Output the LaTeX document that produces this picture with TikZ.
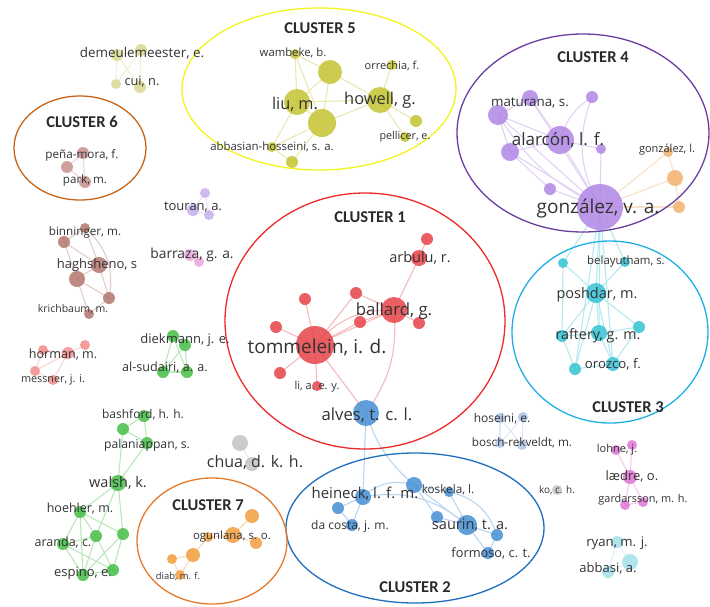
\documentclass[tikz,border=0pt]{standalone}
\usepackage{fontspec}
\newfontfamily\lblfont{Open Sans}
\newfontfamily\clfont{Carlito}
\usetikzlibrary{positioning}
\pgfdeclarelayer{ties}
\pgfsetlayers{ties,main}

\definecolor{cOne}{HTML}{E8494F}
\definecolor{hOne}{HTML}{EE2A2A}
\definecolor{cTwo}{HTML}{4B92D6}
\definecolor{hTwo}{HTML}{1E6EBC}
\definecolor{cThree}{HTML}{3CC6D6}
\definecolor{hThree}{HTML}{1FB0E6}
\definecolor{cFour}{HTML}{B38AE6}
\definecolor{hFour}{HTML}{6A3EA1}
\definecolor{cFive}{HTML}{C6C63A}
\definecolor{hFive}{HTML}{F4F41E}
\definecolor{cSix}{HTML}{C99490}
\definecolor{hSix}{HTML}{C9641C}
\definecolor{cSeven}{HTML}{F2A244}
\definecolor{hSeven}{HTML}{E67A2C}
\definecolor{cBrown}{HTML}{B57C74}
\definecolor{cPink}{HTML}{F29090}
\definecolor{cGreen}{HTML}{4CC04C}
\definecolor{cGrey}{HTML}{C4C4C4}
\definecolor{cLav}{HTML}{C9B2EE}
\definecolor{cRose}{HTML}{EAAADE}
\definecolor{cMag}{HTML}{E07AD6}
\definecolor{cSteel}{HTML}{AEC4E6}
\definecolor{cAqua}{HTML}{A6E2EA}
\definecolor{cPale}{HTML}{DADA94}
\definecolor{cPeach}{HTML}{F2B474}
\definecolor{labgray}{HTML}{333333}
\definecolor{titlegray}{HTML}{2A2A2A}

\tikzset{
  au/.style={circle, inner sep=0pt, minimum size=#1, fill opacity=0.88},
  lbl/.style={font=\lblfont\fontsize{#1}{#1}\selectfont, text=labgray, inner sep=0pt},
  ctitle/.style={font=\clfont\bfseries\fontsize{16.5}{16.5}\selectfont, text=titlegray, inner sep=0pt},
  hull/.style={line width=1.3pt},
  tie/.style={draw=#1!38, line width=1.1pt, line cap=round},
}

\begin{document}
\begin{tikzpicture}[x=1pt, y=-1pt]
\begin{pgfonlayer}{ties}
  \fill[white] (0,0) rectangle (710,606);
\end{pgfonlayer}
\useasboundingbox (0,0) rectangle (710,606);

% --- cluster 5 ---
\node[au=10, fill=cFive] (wam) at (295,54) {};
\node[au=24, fill=cFive] (ftop) at (330,72) {};
\node[au=10, fill=cFive] (orr) at (392,65) {};
\node[au=26, fill=cFive] (liu) at (297,102) {};
\node[au=28, fill=cFive] (fmid) at (322,123) {};
\node[au=26, fill=cFive] (how) at (380,100) {};
\node[au=12, fill=cFive] (frs) at (416,121) {};
\node[au=10, fill=cFive] (pel) at (405,137) {};
\node[au=10, fill=cFive] (abb) at (272,147) {};
\node[au=12, fill=cFive] (flow) at (292,162) {};

% --- demeulemeester / cui ---
\node[au=12, fill=cPale] (dm1) at (117,55) {};
\node[au=12, fill=cPale] (dm2) at (141,50) {};
\node[au=10, fill=cPale] (dm3) at (116,84) {};
\node[au=12, fill=cPale] (dm4) at (140,87) {};

% --- cluster 6 ---
\node[au=12, fill=cSix] (pm1) at (83,153) {};
\node[au=12, fill=cSix] (pm2) at (67,167) {};
\node[au=12, fill=cSix] (pm3) at (85,182) {};

% --- cluster 4 ---
\node[au=16, fill=cFour] (ma1) at (530,98) {};
\node[au=20, fill=cFour] (ma2) at (498,115) {};
\node[au=12, fill=cFour] (ma3) at (592,97) {};
\node[au=28, fill=cFour] (alar) at (560,140) {};
\node[au=18, fill=cFour] (ma4) at (510,152) {};
\node[au=10, fill=cFour] (ma5) at (601,149) {};
\node[au=12, fill=cFour] (ma6) at (550,189) {};
\node[au=46, fill=cFour] (gva) at (600,207) {};
\node[au=10, fill=cPeach] (gl1) at (668,152) {};
\node[au=16, fill=cPeach] (gl2) at (675,178) {};
\node[au=12, fill=cPeach] (gl3) at (679,207) {};

% --- cluster 3 ---
\node[au=10, fill=cThree] (be1) at (563,263) {};
\node[au=10, fill=cThree] (be2) at (625,262) {};
\node[au=20, fill=cThree] (pos) at (596,293) {};
\node[au=12, fill=cThree] (be3) at (639,327) {};
\node[au=12, fill=cThree] (be4) at (562,336) {};
\node[au=16, fill=cThree] (raf) at (599,333) {};
\node[au=12, fill=cThree] (be5) at (575,369) {};
\node[au=14, fill=cThree] (oro) at (613,364) {};

% --- cluster 1 ---
\node[au=38, fill=cOne] (tom) at (315,345) {};
\node[au=26, fill=cOne] (bal) at (394,310) {};
\node[au=16, fill=cOne] (arb) at (419,258) {};
\node[au=12, fill=cOne] (ro1) at (427,239) {};
\node[au=12, fill=cOne] (ro2) at (356,293) {};
\node[au=12, fill=cOne] (ro3) at (360,322) {};
\node[au=12, fill=cOne] (ro4) at (419,323) {};
\node[au=12, fill=cOne] (ro5) at (305,299) {};
\node[au=12, fill=cOne] (ro6) at (276,327) {};
\node[au=12, fill=cOne] (ro7) at (280,373) {};
\node[au=10, fill=cOne] (lia) at (317,386) {};
\node[au=26, fill=cTwo] (alv) at (366,413) {};

% --- cluster 2 ---
\node[au=16, fill=cTwo] (kn) at (414,485) {};
\node[au=16, fill=cTwo] (hei) at (363,497) {};
\node[au=12, fill=cTwo] (hn2) at (338,508) {};
\node[au=12, fill=cTwo] (dac) at (352,525) {};
\node[au=10, fill=cTwo] (kos) at (449,492) {};
\node[au=12, fill=cTwo] (sn1) at (437,517) {};
\node[au=20, fill=cTwo] (sau) at (467,525) {};
\node[au=12, fill=cTwo] (sn2) at (497,535) {};
\node[au=12, fill=cTwo] (for) at (488,553) {};

% --- small groups, left ---
\node[au=10, fill=cLav] (tu1) at (205,193) {};
\node[au=12, fill=cLav] (tu2) at (193,210) {};
\node[au=10, fill=cLav] (tu3) at (209,215) {};
\node[au=12, fill=cRose] (ba1) at (190,255) {};
\node[au=10, fill=cRose] (ba2) at (199,262) {};
\node[au=10, fill=cBrown] (hg1) at (85,228) {};
\node[au=12, fill=cBrown] (hg2) at (64,242) {};
\node[au=16, fill=cBrown] (hg3) at (99,265) {};
\node[au=16, fill=cBrown] (hg4) at (77,279) {};
\node[au=12, fill=cBrown] (hg5) at (109,298) {};
\node[au=10, fill=cBrown] (hg6) at (89,314) {};
\node[au=10, fill=cPink] (hm1) at (43,350) {};
\node[au=12, fill=cPink] (hm2) at (68,353) {};
\node[au=10, fill=cPink] (hm3) at (85,345) {};
\node[au=10, fill=cPink] (hm4) at (35,371) {};
\node[au=10, fill=cPink] (hm5) at (53,380) {};
\node[au=12, fill=cGreen] (dk1) at (173,336) {};
\node[au=12, fill=cGreen] (dk2) at (185,345) {};
\node[au=12, fill=cGreen] (dk3) at (163,372) {};
\node[au=12, fill=cGreen] (dk4) at (187,372) {};
\node[au=12, fill=cGreen] (wk1) at (144,416) {};
\node[au=12, fill=cGreen] (wk2) at (123,429) {};
\node[au=12, fill=cGreen] (wk3) at (147,443) {};
\node[au=16, fill=cGreen] (wal) at (118,483) {};
\node[au=12, fill=cGreen] (hoe) at (80,512) {};
\node[au=12, fill=cGreen] (wk4) at (123,534) {};
\node[au=12, fill=cGreen] (wk5) at (96,536) {};
\node[au=12, fill=cGreen] (ara) at (63,544) {};
\node[au=12, fill=cGreen] (wk6) at (113,570) {};
\node[au=12, fill=cGreen] (esp) at (83,575) {};
\node[au=16, fill=cGrey] (ch1) at (240,443) {};
\node[au=14, fill=cGrey] (ch2) at (252,464) {};

% --- cluster 7 ---
\node[au=14, fill=cSeven] (og1) at (252,516) {};
\node[au=16, fill=cSeven] (og2) at (233,535) {};
\node[au=12, fill=cSeven] (og3) at (256,543) {};
\node[au=10, fill=cSeven] (og4) at (208,537) {};
\node[au=14, fill=cSeven] (og5) at (193,555) {};
\node[au=10, fill=cSeven] (og6) at (172,559) {};
\node[au=10, fill=cSeven] (og7) at (180,575) {};

% --- small groups, right ---
\node[au=10, fill=cSteel] (hs1) at (500,418) {};
\node[au=10, fill=cSteel] (hs2) at (523,417) {};
\node[au=10, fill=cSteel] (hs3) at (500,443) {};
\node[au=10, fill=cSteel] (hs4) at (522,445) {};
\node[au=10, fill=cGrey] (koc) at (557,490) {};
\node[au=10, fill=cMag] (lo1) at (616,450) {};
\node[au=10, fill=cMag] (lo2) at (632,445) {};
\node[au=14, fill=cMag] (lae) at (630,477) {};
\node[au=10, fill=cMag] (lo3) at (625,505) {};
\node[au=10, fill=cMag] (lo4) at (643,502) {};
\node[au=12, fill=cAqua] (ry1) at (617,542) {};
\node[au=16, fill=cAqua] (ry2) at (630,562) {};
\node[au=12, fill=cAqua] (ry3) at (608,572) {};

% --- links ---
\begin{pgfonlayer}{ties}
  \foreach \a/\b in {wam/liu, wam/fmid, wam/ftop, liu/ftop, liu/fmid, ftop/fmid, ftop/how,
      fmid/how, liu/how, how/orr, how/frs, how/pel, liu/abb, fmid/abb, abb/flow, fmid/flow}
    \draw[tie=cFive] (\a.center) -- (\b.center);
  \foreach \a/\b in {dm1/dm2, dm1/dm4, dm2/dm3, dm2/dm4, dm1/dm3}
    \draw[tie=cPale] (\a.center) -- (\b.center);
  \foreach \a/\b in {pm1/pm2, pm2/pm3, pm1/pm3}
    \draw[tie=cSix] (\a.center) -- (\b.center);
  \foreach \a/\b in {ma1/ma2, ma1/alar, ma2/alar, ma2/ma4, alar/ma4, alar/gva, ma1/gva, ma2/gva,
      ma5/gva, ma6/gva, ma4/gva, alar/ma5, ma4/ma6}
    \draw[tie=cFour] (\a.center) -- (\b.center);
  \draw[tie=cFour] (ma3.center) to[bend right=20] (alar.center);
  \draw[tie=cFour] (ma3.center) to[bend right=25] (gva.center);
  \draw[tie=cFour] (ma2.center) to[bend right=15] (gva.center);
  \foreach \a/\b in {gva/gl1, gva/gl2, gva/gl3, gl1/gl2, gl2/gl3}
    \draw[tie=cPeach] (\a.center) -- (\b.center);
  \foreach \a/\b in {gva/be1, gva/be2, gva/pos, gva/raf, gva/oro, gva/be5, pos/be1, pos/be2,
      pos/be3, pos/be4, pos/raf, pos/oro, pos/be5, raf/be4, raf/oro, raf/be3, oro/be5,
      oro/be3, be4/be5, be1/be4}
    \draw[tie=cThree] (\a.center) -- (\b.center);
  \foreach \a/\b in {tom/ro5, tom/ro6, tom/ro7, tom/lia, tom/ro2, tom/ro3, tom/bal, ro2/bal,
      ro3/bal, bal/ro4, bal/arb, arb/ro1, tom/alv}
    \draw[tie=cOne] (\a.center) -- (\b.center);
  \draw[tie=cOne] (tom.center) to[bend left=25] (bal.center);
  \draw[tie=cOne] (bal.center) to[bend left=20] (alv.center);
  \foreach \a/\b in {alv/hei, hei/hn2, hei/dac, hn2/dac, kn/kos, kn/sn1, kn/sau, kos/sau,
      sn1/sau, sau/sn2, sau/for, sn2/for}
    \draw[tie=cTwo] (\a.center) -- (\b.center);
  \draw[tie=cTwo] (alv.center) to[bend right=15] (kn.center);
  \draw[tie=cTwo] (hei.center) to[bend left=30] (kn.center);
  \draw[tie=cTwo] (hei.center) to[bend left=25] (sau.center);
  \draw[tie=cTwo] (kos.center) to[bend left=30] (sn2.center);
  \foreach \a/\b in {tu1/tu2, tu2/tu3, tu1/tu3}
    \draw[tie=cLav] (\a.center) -- (\b.center);
  \draw[tie=cRose] (ba1.center) -- (ba2.center);
  \foreach \a/\b in {hg1/hg2, hg1/hg3, hg2/hg4, hg3/hg4, hg3/hg5, hg4/hg6, hg5/hg6, hg4/hg5, hg2/hg3}
    \draw[tie=cBrown] (\a.center) -- (\b.center);
  \draw[tie=cBrown] (hg1.center) to[bend left=30] (hg5.center);
  \foreach \a/\b in {hm1/hm2, hm2/hm3, hm2/hm4, hm2/hm5, hm4/hm5, hm1/hm4}
    \draw[tie=cPink] (\a.center) -- (\b.center);
  \foreach \a/\b in {dk1/dk2, dk1/dk3, dk2/dk4, dk2/dk3, dk1/dk4, dk3/dk4}
    \draw[tie=cGreen] (\a.center) -- (\b.center);
  \foreach \a/\b in {wk1/wk2, wk1/wk3, wk2/wk3, wk3/wal, wk2/wal, wal/hoe, wal/wk4, wal/wk5,
      hoe/ara, hoe/wk5, hoe/wk4, ara/wk5, ara/esp, wk5/esp, wk4/wk6, wk5/wk6, esp/wk6,
      ara/wk6, hoe/esp, wk4/esp}
    \draw[tie=cGreen] (\a.center) -- (\b.center);
  \draw[tie=cGrey] (ch1.center) -- (ch2.center);
  \foreach \a/\b in {og1/og2, og2/og3, og2/og4, og4/og5, og5/og6, og5/og7, og6/og7}
    \draw[tie=cSeven] (\a.center) -- (\b.center);
  \foreach \a/\b in {hs1/hs4, hs2/hs3, hs1/hs3, hs2/hs4}
    \draw[tie=cSteel] (\a.center) -- (\b.center);
  \foreach \a/\b in {lo2/lae, lo1/lae, lae/lo3, lae/lo4, lo3/lo4}
    \draw[tie=cMag] (\a.center) -- (\b.center);
  \foreach \a/\b in {ry1/ry2, ry1/ry3, ry2/ry3}
    \draw[tie=cAqua] (\a.center) -- (\b.center);
\end{pgfonlayer}

% --- cluster hulls ---
\draw[hull, draw=hFive] (319,89) ellipse [x radius=137, y radius=81];
\draw[hull, draw=hSix] (80,148) ellipse [x radius=66, y radius=52];
\draw[hull, draw=hFour] (583,133) ellipse [x radius=126, y radius=99];
\draw[hull, draw=hOne] (365,321) ellipse [x radius=140, y radius=128];
\draw[hull, draw=hThree] (610,332) ellipse [x radius=98, y radius=91];
\draw[hull, draw=hTwo] (415,528) ellipse [x radius=129, y radius=75];
\draw[hull, draw=hSeven] (212,541) ellipse [x radius=75, y radius=63];

\node[ctitle] (tOne) at (370,217) {CLUSTER 1};
\node[ctitle] (tTwo) at (415,587) {CLUSTER 2};
\node[ctitle] (tThree) at (628,407) {CLUSTER 3};
\node[ctitle] (tFour) at (593,57) {CLUSTER 4};
\node[ctitle] (tFive) at (320,28) {CLUSTER 5};
\node[ctitle] (tSix) at (82,122) {CLUSTER 6};
\node[ctitle] (tSeven) at (208,505) {CLUSTER 7};

% --- labels ---
\node[lbl=11.3] (wamL) at (293,53) {wambeke, b.};
\node[lbl=11] (orrL) at (392,66) {orrechia, f.};
\node[lbl=16.3] (liuL) at (295,104) {liu, m.};
\node[lbl=16.4] (howL) at (380,100) {howell, g.};
\node[lbl=10.8] (pelL) at (405,137) {pellicer, e.};
\node[lbl=11.4] (abbL) at (272,147) {abbasian-hosseini, s. a.};
\node[lbl=13.4] (dmL) at (142,53) {demeulemeester, e.};
\node[lbl=12.8] (cuiL) at (142,82) {cui, n.};
\node[lbl=11.7] (pmL) at (82,155) {peña-mora, f.};
\node[lbl=11.6] (parkL) at (85,180) {park, m.};
\node[lbl=13.4] (matL) at (530,103) {maturana, s.};
\node[lbl=17] (alarL) at (558,140) {alarcón, l. f.};
\node[lbl=11] (glL) at (667,150) {gonzález, l.};
\node[lbl=19] (gvaL) at (598,208) {gonzález, v. a.};
\node[lbl=11.4] (beL) at (626,262) {belayutham, s.};
\node[lbl=14.5] (posL) at (597,295) {poshdar, m.};
\node[lbl=14.3] (rafL) at (598,336) {raftery, g. m.};
\node[lbl=13.2] (oroL) at (613,364) {orozco, f.};
\node[lbl=14.5] (arbL) at (420,258) {arbulu, r.};
\node[lbl=16.8] (balL) at (394,311) {ballard, g.};
\node[lbl=19] (tomL) at (317,347) {tommelein, i. d.};
\node[lbl=11] (liaL) at (317,387) {li, a. e. y.};
\node[lbl=16.7] (alvL) at (367,415) {alves, t. c. l.};
\node[lbl=13] (tuL) at (193,207) {touran, a.};
\node[lbl=13.8] (baL) at (192,255) {barraza, g. a.};
\node[lbl=11.7] (binL) at (85,232) {binninger, m.};
\node[lbl=13] (hgL) at (97,265) {haghsheno, s};
\node[lbl=10.5] (krL) at (73,309) {krichbaum, m.};
\node[lbl=12.6] (horL) at (63,355) {horman, m.};
\node[lbl=10.8] (mesL) at (53,380) {messner, j. i.};
\node[lbl=13] (dkL) at (185,340) {diekmann, j. e.};
\node[lbl=12.6] (alsL) at (165,368) {al-sudairi, a. a.};
\node[lbl=12] (bashL) at (143,415) {bashford, h. h.};
\node[lbl=12.2] (palL) at (147,445) {palaniappan, s.};
\node[lbl=14.5] (walL) at (118,483) {walsh, k.};
\node[lbl=12.5] (hoeL) at (80,509) {hoehler, m.};
\node[lbl=12.5] (araL) at (63,543) {aranda, c.};
\node[lbl=13] (espL) at (83,573) {espino, e.};
\node[lbl=16] (chL) at (255,462) {chua, d. k. h.};
\node[lbl=11.4] (ogL) at (232,537) {ogunlana, s. o.};
\node[lbl=9.4] (diabL) at (178,576) {diab, m. f.};
\node[lbl=15] (heiL) at (365,494) {heineck, l. f. m.};
\node[lbl=11.7] (kosL) at (448,490) {koskela, l.};
\node[lbl=12] (dacL) at (350,526) {da costa, j. m.};
\node[lbl=14.6] (sauL) at (470,525) {saurin, t. a.};
\node[lbl=12.8] (forL) at (491,553) {formoso, c. t.};
\node[lbl=12] (hsL) at (502,419) {hoseini, e.};
\node[lbl=11.7] (bosL) at (522,443) {bosch-rekveldt, m.};
\node[lbl=10] (koL) at (557,490) {ko, c. h.};
\node[lbl=11] (loL) at (617,450) {lohne, j.};
\node[lbl=13] (laeL) at (632,476) {lædre, o.};
\node[lbl=10.9] (gaL) at (643,500) {gardarsson, m. h.};
\node[lbl=13.2] (ryL) at (617,543) {ryan, m. j.};
\node[lbl=13] (abL) at (608,568) {abbasi, a.};
\end{tikzpicture}
\end{document}
